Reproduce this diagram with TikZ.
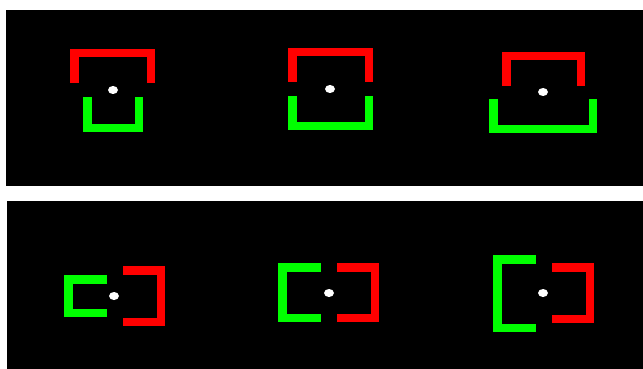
\documentclass[tikz,border=0pt]{standalone}
\definecolor{brred}{RGB}{255,0,0}
\definecolor{brgreen}{RGB}{0,255,0}
\def\hw{4.25}
\newcommand\brkdown[5]{\draw[bracket,#1] ({#2+\hw},#5) -- ({#2+\hw},{#4+\hw}) -- ({#3-\hw},{#4+\hw}) -- ({#3-\hw},#5);}
\newcommand\brkup[5]{\draw[bracket,#1] ({#2+\hw},#4) -- ({#2+\hw},{#5-\hw}) -- ({#3-\hw},{#5-\hw}) -- ({#3-\hw},#4);}
\newcommand\brkright[5]{\draw[bracket,#1] (#3,{#4+\hw}) -- ({#2+\hw},{#4+\hw}) -- ({#2+\hw},{#5-\hw}) -- (#3,{#5-\hw});}
\newcommand\brkleft[5]{\draw[bracket,#1] (#2,{#4+\hw}) -- ({#3-\hw},{#4+\hw}) -- ({#3-\hw},{#5-\hw}) -- (#2,{#5-\hw});}
\tikzset{
  bracket/.style={line width=8.5pt, line join=miter, line cap=butt},
  panel/.style={fill=black},
  fixdot/.style={fill=white}
}
\begin{document}
\begin{tikzpicture}[x=1pt,y=-1pt]
\useasboundingbox (0,0) rectangle (643,369);
\fill[white] (0,0) rectangle (643,369);
\fill[panel] (6,10) rectangle (643,186);
\fill[panel] (7,201) rectangle (643,369);
% top row
\brkdown{brred}{70}{155}{49}{83}
\brkup{brgreen}{83}{143}{97}{132}
\fill[fixdot] (113,90) ellipse (5 and 4);
\brkdown{brred}{288}{373}{48}{82}
\brkup{brgreen}{288}{373}{96}{130}
\fill[fixdot] (330,89) ellipse (5 and 4);
\brkdown{brred}{502}{585}{52}{86}
\brkup{brgreen}{489}{597}{99}{133}
\fill[fixdot] (543,92) ellipse (5 and 4);
% bottom row
\brkright{brgreen}{64}{107}{275}{317}
\brkleft{brred}{123}{165}{266}{326}
\fill[fixdot] (114,296) ellipse (5 and 4);
\brkright{brgreen}{278}{321}{263}{322}
\brkleft{brred}{337}{379}{263}{322}
\fill[fixdot] (329,293) ellipse (5 and 4);
\brkright{brgreen}{493}{536}{255}{332}
\brkleft{brred}{552}{594}{263}{323}
\fill[fixdot] (543,293) ellipse (5 and 4);
\end{tikzpicture}
\end{document}
